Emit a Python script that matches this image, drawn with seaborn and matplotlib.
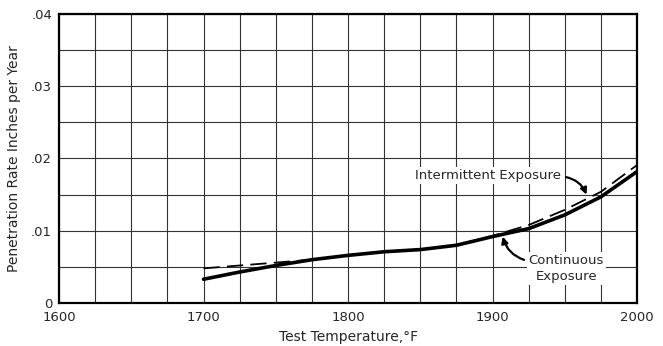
import matplotlib
matplotlib.use("Agg")
import matplotlib.pyplot as plt
import seaborn as sns
import pandas as pd
import numpy as np

temps = [1700, 1725, 1750, 1775, 1800, 1825, 1850, 1875, 1900, 1925, 1950, 1975, 2000]
continuous = [0.0033, 0.0043, 0.0052, 0.0060, 0.0066, 0.0071, 0.0074, 0.0080, 0.0092, 0.0103, 0.0122, 0.0147, 0.0182]
intermittent = [0.0048, 0.0052, 0.0056, 0.0060, 0.0066, 0.0071, 0.0074, 0.0080, 0.0093, 0.0108, 0.0129, 0.0154, 0.0191]

x_ticks = [1600, 1700, 1800, 1900, 2000]
x_tick_labels = ["1600", "1700", "1800", "1900", "2000"]
y_ticks = [0, 0.01, 0.02, 0.03, 0.04]
y_tick_labels = ["0", ".01", ".02", ".03", ".04"]

sns.set_style("white")
plt.rcParams["font.family"] = ["DejaVu Sans"]

fig = plt.figure(figsize=(6.63, 3.46), dpi=100)
ax = fig.add_axes([0.089, 0.124, 0.872, 0.836])

df_c = pd.DataFrame({"T": temps, "rate": continuous})
df_i = pd.DataFrame({"T": temps, "rate": intermittent})

sns.lineplot(data=df_i, x="T", y="rate", ax=ax, color="black", linewidth=1.3,
             linestyle=(0, (9, 4)), zorder=3)
sns.lineplot(data=df_c, x="T", y="rate", ax=ax, color="black", linewidth=2.6, zorder=4)

ax.set_xlim(1600, 2000)
ax.set_ylim(0, 0.04)
ax.set_xticks(x_ticks)
ax.set_xticklabels(x_tick_labels)
ax.set_yticks(y_ticks)
ax.set_yticklabels(y_tick_labels)
ax.set_xticks(np.arange(1600, 2001, 25), minor=True)
ax.set_yticks(np.arange(0, 0.0401, 0.005), minor=True)
ax.grid(which="both", color="#333333", linewidth=0.8)
ax.set_axisbelow(True)
ax.tick_params(which="both", length=0, labelsize=9.5)
ax.tick_params(axis="x", pad=6)
ax.tick_params(axis="y", pad=5)

for s in ax.spines.values():
    s.set_color("black")
    s.set_linewidth(1.6)

ax.set_xlabel("Test Temperature,°F", fontsize=10, labelpad=4)
ax.set_ylabel("Penetration Rate Inches per Year", fontsize=10, labelpad=7)

ax.annotate("Intermittent Exposure", xy=(1965, 0.0150), xytext=(1897, 0.0177),
            fontsize=9.5, ha="center", va="center",
            bbox=dict(boxstyle="square,pad=0.15", fc="white", ec="none"),
            arrowprops=dict(arrowstyle="-|>", color="black", lw=1.6,
                            connectionstyle="arc3,rad=-0.3", shrinkA=2, shrinkB=0,
                            relpos=(1.0, 0.4)))
ax.annotate("Continuous\nExposure", xy=(1907, 0.0092), xytext=(1951, 0.0048),
            fontsize=9.5, ha="center", va="center", linespacing=1.3,
            bbox=dict(boxstyle="square,pad=0.15", fc="white", ec="none"),
            arrowprops=dict(arrowstyle="-|>", color="black", lw=1.6,
                            connectionstyle="arc3,rad=-0.3", shrinkA=2, shrinkB=0,
                            relpos=(0.0, 0.75)))

fig.savefig("out.png", dpi=100)
